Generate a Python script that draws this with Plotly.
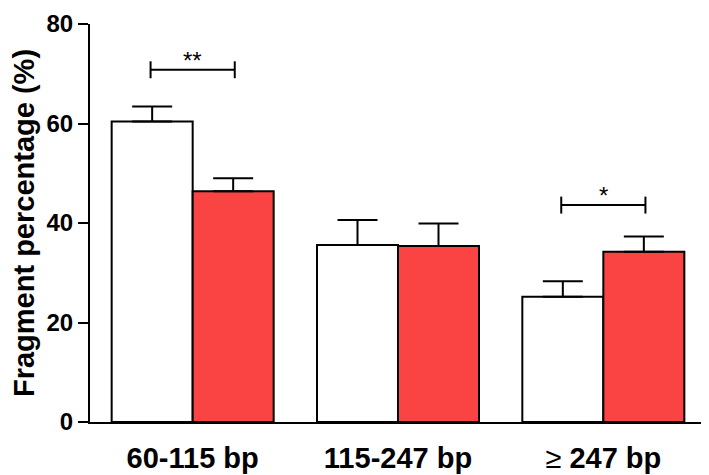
import plotly.graph_objects as go

categories = ["60-115 bp", "115-247 bp", "≥ 247 bp"]
control_values = [60.4, 35.6, 25.2]
control_errors = [3.0, 5.0, 3.1]
treated_values = [46.4, 35.4, 34.2]
treated_errors = [2.6, 4.5, 3.1]

# significance brackets: group index, label, bracket level
sig_groups = [0, 2]
sig_labels = ["**", "*"]
sig_levels = [70.8, 43.6]

x_pos = list(range(len(categories)))

fig = go.Figure()

fig.add_trace(go.Bar(
    x=x_pos,
    y=control_values,
    marker=dict(color="white", line=dict(color="black", width=2)),
    error_y=dict(type="data", array=control_errors, arrayminus=[0] * 3,
                 symmetric=False, color="black", thickness=2, width=20),
    name="Control"
))

fig.add_trace(go.Bar(
    x=x_pos,
    y=treated_values,
    marker=dict(color="#FA4343", line=dict(color="black", width=2)),
    error_y=dict(type="data", array=treated_errors, arrayminus=[0] * 3,
                 symmetric=False, color="black", thickness=2, width=20),
    name="Treated"
))

half = 0.205
for g, label, level in zip(sig_groups, sig_labels, sig_levels):
    x0 = g - half
    x1 = g + half
    fig.add_shape(type="line", x0=x0, x1=x1, y0=level, y1=level,
                  line=dict(color="black", width=2))
    for xe in (x0, x1):
        fig.add_shape(type="line", x0=xe, x1=xe, y0=level - 1.7, y1=level + 1.7,
                      line=dict(color="black", width=2))
    fig.add_annotation(x=g, y=level + 1.9, text=label, showarrow=False,
                       yanchor="middle", font=dict(size=24, color="black"))


def tick_label(c):
    if c.startswith("≥"):
        return '<span style="font-weight:normal">≥</span><b>' + c[1:] + "</b>"
    return "<b>" + c + "</b>"


fig.update_layout(
    width=709,
    height=475,
    barmode="group",
    bargap=0.211,
    bargroupgap=0,
    showlegend=False,
    plot_bgcolor="white",
    paper_bgcolor="white",
    margin=dict(l=82, r=11, t=16, b=61, autoexpand=False),
    font=dict(family="Liberation Sans", color="black"),
    xaxis=dict(
        tickmode="array",
        tickvals=x_pos,
        ticktext=[tick_label(c) for c in categories],
        range=[-0.5, 2.5],
        showline=True, linecolor="black", linewidth=2,
        ticks="", showgrid=False, zeroline=False,
        tickfont=dict(size=29),
        ticklabelstandoff=9,
    ),
    yaxis=dict(
        range=[0, 80],
        tickvals=[0, 20, 40, 60, 80],
        ticktext=["<b>%d</b>" % v for v in [0, 20, 40, 60, 80]],
        showline=True, linecolor="black", linewidth=2,
        ticks="outside", ticklen=10, tickwidth=2, tickcolor="black",
        showgrid=False, zeroline=False,
        tickfont=dict(size=24),
        ticklabeloverflow="allow",
        title=dict(text="<b>Fragment percentage (%)</b>", font=dict(size=29), standoff=8),
    ),
)

fig.write_html("out.html")
